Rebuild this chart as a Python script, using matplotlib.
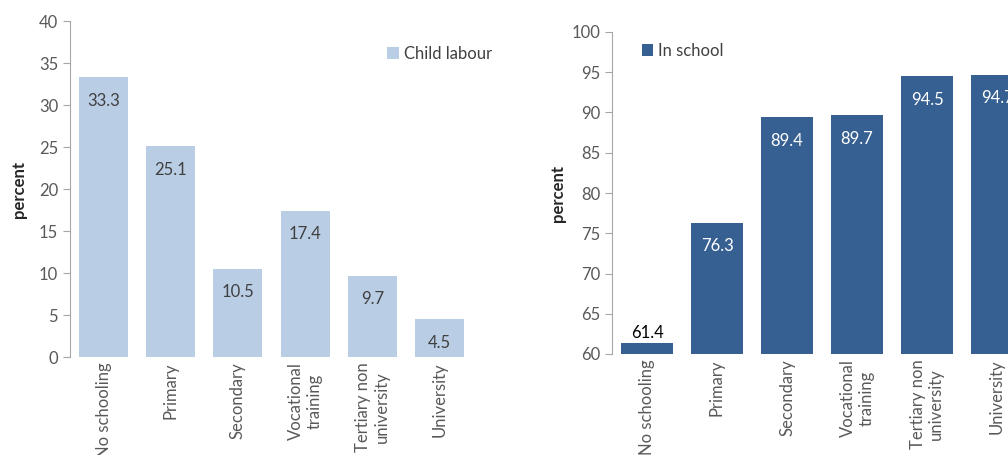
import numpy as np
import matplotlib.pyplot as plt

plt.rcParams['font.family'] = ['Lato', 'DejaVu Sans']

categories = ["No schooling", "Primary", "Secondary", "Vocational\ntraining",
              "Tertiary non\nuniversity", "University"]
child_labour = [33.3, 25.1, 10.5, 17.4, 9.7, 4.5]
in_school = [61.4, 76.3, 89.4, 89.7, 94.5, 94.7]

light_blue = "#B9CDE5"
dark_blue = "#376092"
grey = "#595959"
fs = 12

fig = plt.figure(figsize=(10.08, 4.55), dpi=100)
W, H = 1008, 455
ax1 = fig.add_axes([70 / W, (H - 357) / H, 403 / W, 336 / H])
ax2 = fig.add_axes([612 / W, (H - 354) / H, 420 / W, 322 / H])

x = np.arange(len(categories))


def style_axis(ax, lo, hi):
    ax.set_xlim(-0.5, len(categories) - 0.5)
    ax.set_ylim(lo, hi)
    ax.set_yticks(np.arange(lo, hi + 1, 5))
    for s in ("top", "right", "bottom"):
        ax.spines[s].set_visible(False)
    ax.spines["left"].set_color("#A6A6A6")
    ax.tick_params(axis="y", colors="#A6A6A6", labelcolor=grey,
                   labelsize=fs, length=5, direction="out")
    ax.tick_params(axis="x", length=0, labelsize=fs, labelcolor=grey, pad=4)
    ax.set_xticks(x)
    ax.set_xticklabels(categories, rotation=90, ha="center", va="top",
                       multialignment="center")
    ax.set_ylabel("percent", fontweight="bold", fontsize=fs, color="#262626")


# child labour by education level
bars1 = ax1.bar(x, child_labour, width=0.73, color=light_blue, label="Child labour")
style_axis(ax1, 0, 40)
ax1.yaxis.set_label_coords(-0.106, 0.5)
for b, v in zip(bars1, child_labour):
    ax1.annotate(f"{v:.1f}", (b.get_x() + b.get_width() / 2, v),
                 xytext=(0, -17), textcoords="offset points",
                 ha="center", va="center", fontsize=fs, color="#404040")
ax1.legend(loc="center left", bbox_to_anchor=(0.787, 0.902), frameon=False,
           handlelength=0.7, handleheight=0.7, handletextpad=0.3,
           borderpad=0, borderaxespad=0, fontsize=fs, labelcolor="#404040")

# school attendance by education level
bars2 = ax2.bar(x, in_school, width=0.74, color=dark_blue, label="In school")
style_axis(ax2, 60, 100)
ax2.yaxis.set_label_coords(-0.11, 0.5)
for b, v in zip(bars2, in_school):
    if v - 60 < 4:
        ax2.annotate(f"{v:.1f}", (b.get_x() + b.get_width() / 2, v),
                     xytext=(0, 7), textcoords="offset points",
                     ha="center", va="center", fontsize=fs, color="black")
    else:
        ax2.annotate(f"{v:.1f}", (b.get_x() + b.get_width() / 2, v),
                     xytext=(0, -17), textcoords="offset points",
                     ha="center", va="center", fontsize=fs, color="white")
ax2.legend(loc="center left", bbox_to_anchor=(0.071, 0.941), frameon=False,
           handlelength=0.7, handleheight=0.7, handletextpad=0.3,
           borderpad=0, borderaxespad=0, fontsize=fs, labelcolor="#404040")

fig.savefig("out.png", dpi=100)
